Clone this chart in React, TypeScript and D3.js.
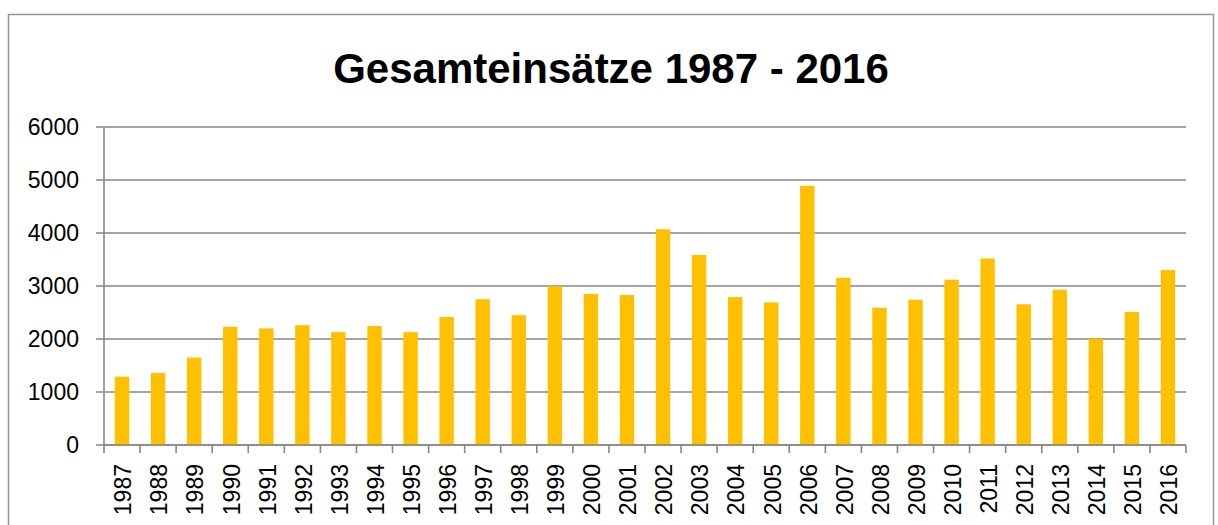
import * as d3 from "d3"

const years = [
  "1987", "1988", "1989", "1990", "1991", "1992", "1993", "1994", "1995", "1996",
  "1997", "1998", "1999", "2000", "2001", "2002", "2003", "2004", "2005", "2006",
  "2007", "2008", "2009", "2010", "2011", "2012", "2013", "2014", "2015", "2016",
]
const einsaetze = [
  1290, 1360, 1650, 2230, 2200, 2260, 2130, 2245, 2130, 2415,
  2750, 2450, 2995, 2850, 2830, 4070, 3585, 2790, 2690, 4890,
  3155, 2590, 2740, 3120, 3520, 2655, 2930, 2005, 2510, 3300,
]
const yTicks = [0, 1000, 2000, 3000, 4000, 5000, 6000]
const title = "Gesamteinsätze 1987 - 2016"

const W = 1218
const H = 525
const font = "'Liberation Sans', Arial, sans-serif"
const grey = "#878787"

export default function App() {
  const left = 104
  const right = 1186
  const top = 127
  const bottom = 445

  const x = d3.scaleBand<string>().domain(years).range([left, right]).paddingInner(0.6).paddingOuter(0.3)
  const y = d3.scaleLinear().domain([0, 6000]).range([bottom, top])

  // category boundaries for the x tick marks
  const boundaries = d3.range(years.length + 1).map((i) => left + i * ((right - left) / years.length))

  return (
    <svg
      width={W}
      height={H}
      style={{ position: "absolute", left: 0, top: 0, background: "#fff" }}
      fontFamily={font}
    >
      <rect x={8.5} y={14.5} width={1205} height={540} fill="#fff" stroke="#979797" strokeWidth={1.5} />

      <text x={611} y={83} textAnchor="middle" fontSize={42} fontWeight="bold" fill="#000">
        {title}
      </text>

      {yTicks.map((t) => (
        <g key={t}>
          <line x1={left - 8} x2={right} y1={y(t)} y2={y(t)} stroke={grey} strokeWidth={1.6} />
          <text x={79} y={y(t)} dy="0.36em" textAnchor="end" fontSize={23} fill="#000">
            {t}
          </text>
        </g>
      ))}

      {years.map((yr, i) => (
        <rect
          key={yr}
          x={x(yr)}
          y={y(einsaetze[i])}
          width={x.bandwidth()}
          height={bottom - y(einsaetze[i])}
          fill="#FFC000"
        />
      ))}

      <line x1={left} x2={left} y1={top} y2={bottom} stroke={grey} strokeWidth={1.6} />
      <line x1={left} x2={right} y1={bottom} y2={bottom} stroke={grey} strokeWidth={1.6} />
      {boundaries.map((bx, i) => (
        <line key={i} x1={bx} x2={bx} y1={bottom} y2={bottom + 8} stroke={grey} strokeWidth={1.6} />
      ))}

      {years.map((yr) => {
        const cx = (x(yr) ?? 0) + x.bandwidth() / 2 + 1
        return (
          <text
            key={yr}
            transform={`translate(${cx},${bottom + 19}) rotate(-90)`}
            dy="0.36em"
            textAnchor="end"
            fontSize={23}
            fill="#000"
          >
            {yr}
          </text>
        )
      })}
    </svg>
  )
}
